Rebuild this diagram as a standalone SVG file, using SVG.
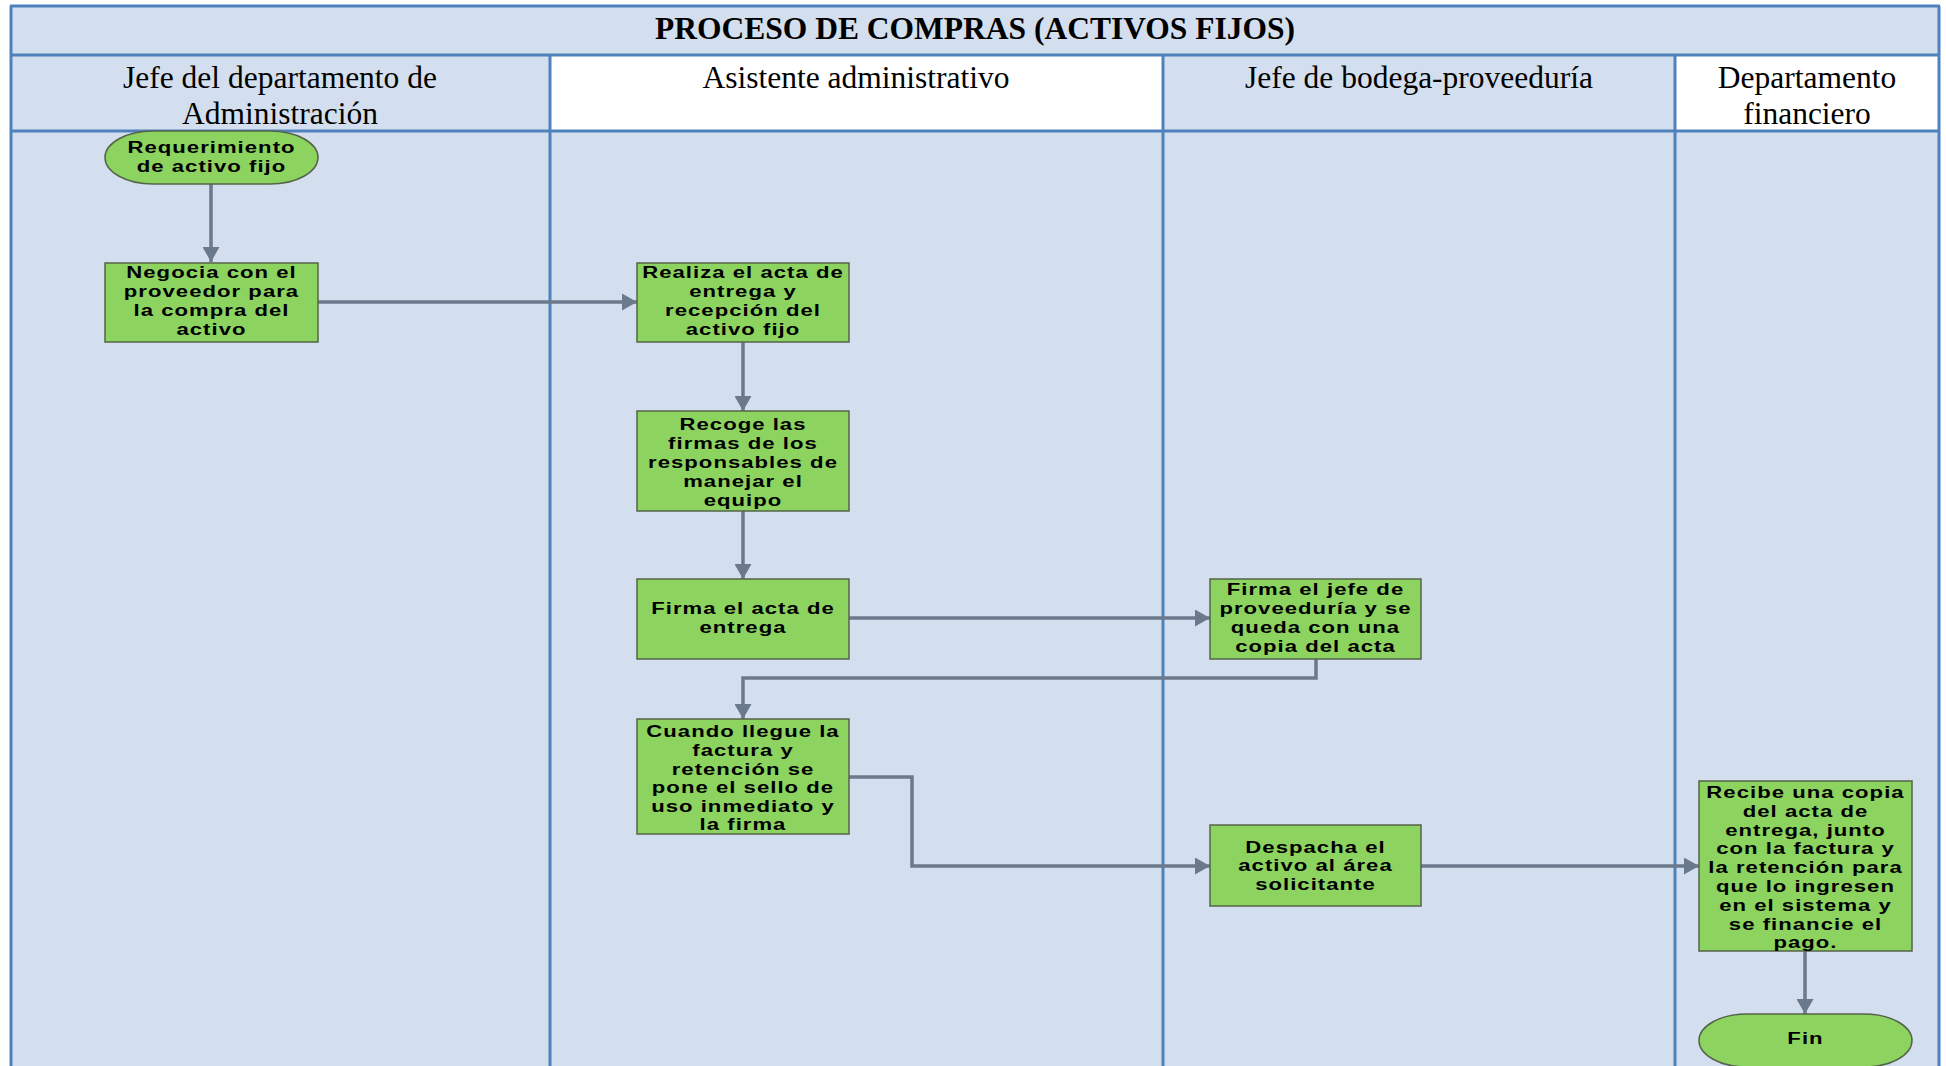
<svg xmlns="http://www.w3.org/2000/svg" width="1946" height="1066" viewBox="0 0 1946 1066">
  <style>
    .lane-fill { fill: #D3DFEE; }
    .head-white { fill: #FFFFFF; }
    .grid { stroke: #4F81BD; stroke-width: 3; fill: none; }
    .title { font-family: "Liberation Serif", "Times New Roman", serif; font-weight: bold; font-size: 31.5px; fill: #000; text-anchor: middle; }
    .head { font-family: "Liberation Serif", "Times New Roman", serif; font-size: 31.5px; fill: #000; text-anchor: middle; }
    .box { fill: #8DD35F; stroke: #55644A; stroke-width: 1.5; }
    .lbl { font-family: "Liberation Sans", Arial, sans-serif; font-weight: bold; font-size: 17px; letter-spacing: 0.8px; fill: #000; text-anchor: middle; }
    .conn { stroke: #6B798C; stroke-width: 3.5; fill: none; }
  </style>
  <defs>
    <marker id="arrow" markerUnits="userSpaceOnUse" markerWidth="16" markerHeight="17" refX="15" refY="8.5" orient="auto">
      <path d="M0,0 L15,8.5 L0,17 Z" fill="#6B798C"/>
    </marker>
  </defs>

  <!-- swimlane table -->
  <g id="lanes">
    <rect class="lane-fill" x="10" y="6" width="1930" height="1066"/>
    <rect class="head-white" x="550" y="55" width="613" height="76"/>
    <rect class="head-white" x="1675" y="55" width="265" height="76"/>
    <path class="grid" d="M10,6 H1940 M10,55 H1940 M10,131 H1940 M11,6 V1070 M1939,6 V1070 M550,55 V1070 M1163,55 V1070 M1675,55 V1070"/>
    <text class="title" x="975" y="39">PROCESO DE COMPRAS (ACTIVOS FIJOS)</text>
    <text class="head" x="280" y="87.5">Jefe del departamento de</text>
    <text class="head" x="280" y="123.5">Administración</text>
    <text class="head" x="856" y="87.5">Asistente administrativo</text>
    <text class="head" x="1419" y="87.5">Jefe de bodega-proveeduría</text>
    <text class="head" x="1807" y="87.5">Departamento</text>
    <text class="head" x="1807" y="123.5">financiero</text>
  </g>

  <!-- connectors -->
  <g id="connectors">
    <path class="conn" d="M211,184 V262" marker-end="url(#arrow)"/>
    <path class="conn" d="M318,302 H637" marker-end="url(#arrow)"/>
    <path class="conn" d="M743,342 V411" marker-end="url(#arrow)"/>
    <path class="conn" d="M743,511 V579" marker-end="url(#arrow)"/>
    <path class="conn" d="M849,618 H1210" marker-end="url(#arrow)"/>
    <path class="conn" d="M1316,659 V678 H743 V719" marker-end="url(#arrow)"/>
    <path class="conn" d="M849,777 H912 V866 H1210" marker-end="url(#arrow)"/>
    <path class="conn" d="M1421,866 H1699" marker-end="url(#arrow)"/>
    <path class="conn" d="M1805,951 V1014" marker-end="url(#arrow)"/>
  </g>

  <!-- start terminator -->
  <g id="n-inicio">
    <rect class="box" x="105" y="131" width="213" height="53" rx="48" ry="26.5"/>
    <g transform="translate(211.5,0) scale(1.3,1)">
      <text class="lbl" x="0" y="153.3">Requerimiento</text>
      <text class="lbl" x="0" y="172.3">de activo fijo</text>
    </g>
  </g>

  <g id="n-negocia">
    <rect class="box" x="105" y="263" width="213" height="79"/>
    <g transform="translate(211.5,0) scale(1.3,1)">
      <text class="lbl" x="0" y="278.2">Negocia con el</text>
      <text class="lbl" x="0" y="297.2">proveedor para</text>
      <text class="lbl" x="0" y="316.2">la compra del</text>
      <text class="lbl" x="0" y="335.2">activo</text>
    </g>
  </g>

  <g id="n-realiza">
    <rect class="box" x="637" y="263" width="212" height="79"/>
    <g transform="translate(743,0) scale(1.3,1)">
      <text class="lbl" x="0" y="278.2">Realiza el acta de</text>
      <text class="lbl" x="0" y="297.2">entrega y</text>
      <text class="lbl" x="0" y="316.2">recepción del</text>
      <text class="lbl" x="0" y="335.2">activo fijo</text>
    </g>
  </g>

  <g id="n-recoge">
    <rect class="box" x="637" y="411" width="212" height="100"/>
    <g transform="translate(743,0) scale(1.3,1)">
      <text class="lbl" x="0" y="430.1">Recoge las</text>
      <text class="lbl" x="0" y="449.1">firmas de los</text>
      <text class="lbl" x="0" y="468.1">responsables de</text>
      <text class="lbl" x="0" y="487.1">manejar el</text>
      <text class="lbl" x="0" y="506">equipo</text>
    </g>
  </g>

  <g id="n-firma-acta">
    <rect class="box" x="637" y="579" width="212" height="80"/>
    <g transform="translate(743,0) scale(1.3,1)">
      <text class="lbl" x="0" y="614.3">Firma el acta de</text>
      <text class="lbl" x="0" y="633.3">entrega</text>
    </g>
  </g>

  <g id="n-firma-jefe">
    <rect class="box" x="1210" y="579" width="211" height="80"/>
    <g transform="translate(1315.5,0) scale(1.3,1)">
      <text class="lbl" x="0" y="595.3">Firma el jefe de</text>
      <text class="lbl" x="0" y="614.3">proveeduría y se</text>
      <text class="lbl" x="0" y="633.3">queda con una</text>
      <text class="lbl" x="0" y="652.3">copia del acta</text>
    </g>
  </g>

  <g id="n-factura">
    <rect class="box" x="637" y="719" width="212" height="115"/>
    <g transform="translate(743,0) scale(1.3,1)">
      <text class="lbl" x="0" y="737.4">Cuando llegue la</text>
      <text class="lbl" x="0" y="756">factura y</text>
      <text class="lbl" x="0" y="774.6">retención se</text>
      <text class="lbl" x="0" y="793.2">pone el sello de</text>
      <text class="lbl" x="0" y="811.8">uso inmediato y</text>
      <text class="lbl" x="0" y="830.4">la firma</text>
    </g>
  </g>

  <g id="n-despacha">
    <rect class="box" x="1210" y="825" width="211" height="81"/>
    <g transform="translate(1315.5,0) scale(1.3,1)">
      <text class="lbl" x="0" y="852.8">Despacha el</text>
      <text class="lbl" x="0" y="871.4">activo al área</text>
      <text class="lbl" x="0" y="890">solicitante</text>
    </g>
  </g>

  <g id="n-recibe">
    <rect class="box" x="1699" y="781" width="213" height="170"/>
    <g transform="translate(1805.5,0) scale(1.3,1)">
      <text class="lbl" x="0" y="798">Recibe una copia</text>
      <text class="lbl" x="0" y="816.8">del acta de</text>
      <text class="lbl" x="0" y="835.6">entrega, junto</text>
      <text class="lbl" x="0" y="854.4">con la factura y</text>
      <text class="lbl" x="0" y="873.2">la retención para</text>
      <text class="lbl" x="0" y="892">que lo ingresen</text>
      <text class="lbl" x="0" y="910.8">en el sistema y</text>
      <text class="lbl" x="0" y="929.6">se financie el</text>
      <text class="lbl" x="0" y="948.4">pago.</text>
    </g>
  </g>

  <!-- end terminator -->
  <g id="n-fin">
    <rect class="box" x="1699" y="1014" width="213" height="53" rx="48" ry="26.5"/>
    <g transform="translate(1805.5,0) scale(1.3,1)">
      <text class="lbl" x="0" y="1044">Fin</text>
    </g>
  </g>
</svg>
